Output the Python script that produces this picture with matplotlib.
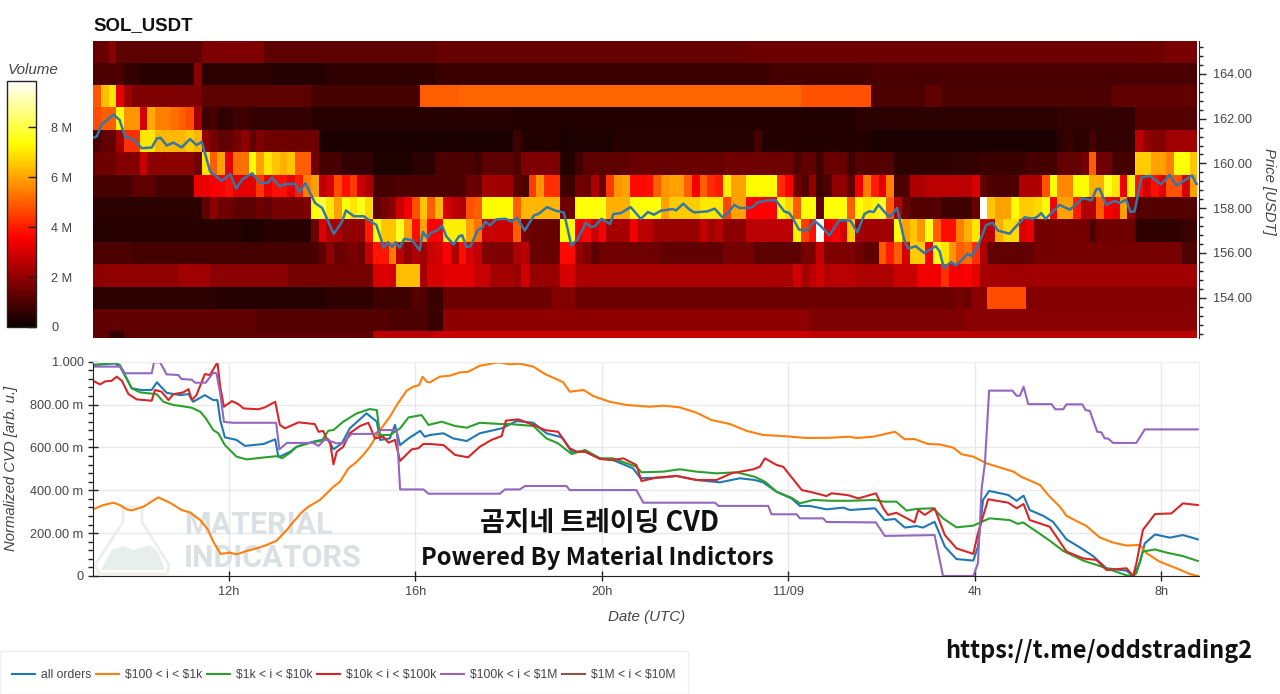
import numpy as np
import matplotlib
matplotlib.use("Agg")
import matplotlib.pyplot as plt
from matplotlib.patches import Polygon, Rectangle
from matplotlib.ticker import MultipleLocator

plt.rcParams['font.family'] = ['Liberation Sans', 'DejaVu Sans']

# heatmap: one list per price row, (first 10 min cell, volume in M), value holds until next entry
n_cells = 142
t_start = 9.08
vol_165 = [(0,1.4),(2,1.9),(3,1.2),(14,1.7),(22,1.2),(44,1.35),(84,1.45),(134,1.5),(138,1.65)]
vol_164 = [(0,1.0),(4,.65),(6,.45),(13,1.9),(14,.5),(23,.4),(30,.55),(44,.7),(87,.85),(100,.95),(141,.9)]
vol_163 = [(0,4.9),(1,6.4),(2,7.0),(3,3.2),(4,2.2),(5,1.7),(14,1.2),(28,.9),(42,5.0),(47,5.1),(91,4.8),(100,1.0),(107,1.3),(109,1.0),(131,1.3)]
vol_162 = [(0,4.7),(1,5.0),(3,7.3),(4,5.8),(6,3.0),(7,6.1),(8,5.5),(10,5.2),(11,5.0),(12,4.7),(13,2.3),(14,.7),(15,.9),(16,.6),(18,.8),(20,.6),(28,.45),(54,.35),(98,.5),(124,.6),(134,1.1)]
vol_161 = [(0,1.0),(1,1.3),(3,2.3),(4,4.3),(6,7.0),(8,6.3),(12,6.6),(13,6.3),(14,2.0),(15,1.6),(16,1.3),(18,1.6),(19,2.0),(20,1.3),(21,1.7),(22,1.5),(29,.25),
           (54,.8),(55,.35),(60,.2),(61,.3),(67,.4),(85,.9),(86,.35),(100,.25),(124,.5),(125,.7),(126,.5),(128,.9),(129,.6),(134,2.6),(135,2.0),(136,1.8),(138,2.2)]
vol_160 = [(0,1.5),(3,1.8),(6,2.8),(7,1.9),(13,1.5),(14,7.0),(15,5.0),(16,6.0),(17,3.2),(18,5.2),(20,7.3),(21,6.0),(22,7.0),(23,6.5),(24,6.2),(25,6.5),(26,5.0),(28,1.5),(29,.9),(32,.6),(36,.3),(41,.5),
           (44,1.0),(49,.8),(50,1.2),(54,1.0),(55,1.7),(60,.4),(62,.8),(63,1.2),(69,1.4),(81,1.5),(90,1.0),(91,1.3),(93,.8),(94,1.4),(97,.8),(98,1.1),(103,.55),(111,.6),(114,.7),(120,.9),
           (124,1.3),(127,1.6),(128,5.0),(129,1.5),(131,.9),(134,6.6),(136,6.0),(138,5.5),(139,7.4),(141,6.5)]
vol_159 = [(0,.9),(5,1.2),(8,.9),(13,3.3),(15,3.5),(17,3.8),(18,3.2),(21,4.4),(22,3.3),(23,3.8),(25,3.2),(26,4.0),(27,5.5),(28,6.0),(29,2.6),(30,3.0),(31,4.7),(32,3.8),(33,4.4),(34,2.8),(35,2.4),(36,.9),(39,1.0),
           (48,1.4),(50,2.2),(54,1.2),(55,1.0),(56,4.5),(57,5.8),(58,4.3),(60,.8),(62,1.6),(63,1.4),(64,2.4),(65,1.4),(66,4.4),(67,5.8),(68,6.0),(69,3.7),(71,3.8),(72,5.0),(73,5.8),(74,6.0),(76,5.0),(77,3.5),(78,5.0),(79,4.2),(80,4.0),
           (81,7.1),(82,6.0),(84,7.3),(88,4.2),(89,3.6),(90,1.5),(91,1.1),(92,2.0),(93,.8),(94,1.0),(95,2.0),(97,1.3),(98,3.4),(99,5.4),(100,4.0),(101,3.2),(102,5.5),(103,1.0),(105,2.4),(107,2.6),(113,3.0),(114,1.3),(115,1.0),
           (119,2.4),(122,4.8),(123,7.4),(124,5.6),(126,7.3),(128,6.2),(130,7.7),(131,7.0),(132,3.4),(133,7.2),(134,3.8),(135,3.0),(136,3.8),(137,3.2),(138,4.8),(140,3.0),(141,6.0)]
vol_158 = [(0,.5),(14,1.2),(15,1.9),(16,1.5),(18,1.2),(21,1.5),(22,1.3),(23,1.6),(27,1.8),(28,7.5),(29,8.0),(30,7.0),(31,6.0),(32,7.4),(33,7.0),(34,7.6),(35,6.8),(36,1.3),(37,1.6),(38,1.9),(39,2.8),(40,3.4),(41,4.8),(42,6.5),(43,5.0),
           (44,6.3),(45,3.0),(46,2.6),(47,2.4),(48,4.8),(49,5.0),(50,7.3),(54,5.0),(55,6.3),(60,1.5),(62,7.4),(65,7.5),(66,6.2),(69,7.4),(73,6.0),(74,6.6),(78,7.0),(81,4.6),(82,6.0),(84,3.6),(88,7.3),(89,6.8),(90,5.0),(91,7.4),(93,1.3),(94,7.4),(97,5.0),
           (98,7.3),(99,7.0),(100,7.2),(101,7.8),(102,5.0),(103,2.5),(104,1.4),(105,1.1),(109,.8),(113,1.4),(114,9.8),(115,6.5),(116,6.0),(118,7.3),(119,6.6),(121,6.8),(122,7.3),(123,3.4),(124,6.0),(126,4.0),(127,2.4),(128,2.5),(129,5.0),(130,3.5),(131,3.2),(132,6.0),(133,2.0),(134,1.1)]
vol_157 = [(0,.45),(19,.3),(22,.45),(28,1.5),(29,3.1),(30,2.4),(32,2.0),(35,4.0),(36,7.4),(37,6.5),(39,7.7),(40,6.0),(41,3.8),(42,6.0),(43,3.6),(45,7.1),(48,6.0),(49,5.3),(50,2.8),(54,5.0),(55,1.6),(56,1.4),(60,7.3),(62,3.4),(63,3.7),(64,2.8),(65,3.5),(66,2.3),
           (69,3.4),(70,2.6),(72,2.1),(78,2.7),(79,2.3),(80,2.5),(81,1.9),(84,2.6),(90,7.2),(91,4.5),(92,3.8),(93,9.8),(94,3.2),(95,3.6),(96,3.0),(97,6.6),(98,2.2),(103,7.5),(104,6.0),(105,6.5),(106,5.8),(107,7.6),(108,5.0),(109,3.8),(111,5.5),(112,6.2),(113,7.0),
           (114,2.6),(116,6.2),(117,6.8),(119,3.0),(120,3.3),(121,1.6),(128,1.0),(129,1.5),(134,.55),(140,.7)]
vol_156 = [(0,1.0),(5,.85),(28,1.0),(29,1.3),(30,1.9),(31,1.4),(32,1.5),(33,1.7),(34,1.5),(35,2.7),(36,3.9),(38,5.4),(39,2.6),(40,2.0),(41,2.4),(42,2.2),(43,2.8),(44,3.0),(45,3.6),(46,2.4),(47,3.8),(48,3.0),(49,2.7),(50,1.7),(54,2.4),(55,2.6),(56,1.4),(60,3.7),(62,2.0),(63,1.7),(64,1.2),(65,1.5),
           (73,1.3),(81,1.6),(85,1.2),(91,1.6),(93,2.7),(94,1.7),(98,1.5),(99,1.3),(101,4.9),(102,4.0),(103,5.0),(104,3.0),(105,6.6),(107,3.5),(108,7.5),(109,7.0),(110,5.8),(111,5.0),(112,5.2),(113,4.3),(114,2.4),(115,1.3),(121,1.6),(140,1.0)]
vol_155 = [(0,1.9),(1,2.0),(11,2.2),(15,1.9),(25,1.6),(36,3.1),(38,3.0),(39,6.4),(42,2.3),(43,3.0),(45,3.2),(49,2.8),(51,2.3),(54,2.1),(55,2.9),(56,2.1),(60,3.0),(62,2.35),(90,2.9),(91,2.3),(92,2.6),(93,2.9),(94,2.5),(95,2.6),(98,2.4),(103,2.8),(106,3.4),(109,4.3),(110,3.5),(112,3.6),(113,3.2),(114,2.3),(117,2.2)]
vol_154 = [(0,.5),(16,.4),(30,.55),(36,.8),(41,1.1),(43,.7),(45,1.45),(59,1.8),(62,1.45),(111,1.6),(112,1.45),(113,1.9),(115,4.7),(120,1.8)]
vol_153 = [(0,1.3),(21,1.1),(38,1.0),(43,.7),(45,1.95),(92,1.7),(112,1.85)]
vol_152 = [(0,1.2),(2,.6),(4,1.2),(36,2.6),(44,2.8),(92,2.6)]
vol_rows = [vol_152, vol_153, vol_154, vol_155, vol_156, vol_157, vol_158, vol_159, vol_160, vol_161, vol_162, vol_163, vol_164, vol_165]
price_edges = [152.2, 152.5, 153.5, 154.5, 155.5, 156.5, 157.5, 158.5, 159.5, 160.5, 161.5, 162.5, 163.5, 164.5, 165.47]

price_t = [9.08,9.16,9.27,9.37,9.52,9.65,9.77,9.91,10.0,10.12,10.34,10.45,10.53,10.66,10.8,10.98,11.16,11.3,11.41,11.59,11.84,12.02,12.15,12.27,12.49,12.66,12.84,12.91,13.08,13.2,13.41,13.5,13.63,13.84,13.99,14.24,14.42,14.5,14.67,14.88,15.08,15.15,15.31,15.4,15.49,15.57,15.65,15.75,15.92,16.08,16.15,16.24,
           16.31,16.45,16.56,16.65,16.81,16.92,16.99,17.08,17.17,17.33,17.42,17.49,17.58,17.72,17.92,18.05,18.17,18.33,18.53,18.63,18.81,18.99,19.17,19.33,19.46,19.64,19.76,19.83,19.98,20.16,20.23,20.39,20.6,20.82,20.97,21.1,21.25,21.5,21.57,21.73,21.85,21.96,22.25,22.4,22.57,22.68,22.82,22.93,23.11,23.21,23.32,23.53,23.71,23.89,24.0,24.07,24.21,24.39,24.54,24.68,24.86,25.07,25.31,25.46,
           25.61,25.71,25.81,25.91,26.09,26.16,26.31,26.46,26.55,26.71,26.89,27.14,27.22,27.31,27.47,27.57,27.72,27.82,27.91,28.07,28.22,28.36,28.47,28.72,28.86,29.04,29.22,29.31,29.4,29.49,29.79,30.01,30.29,30.48,30.58,30.65,30.79,30.97,31.08,31.22,31.31,31.4,31.54,31.72,31.97,32.15,32.29,32.47,32.63,32.72,32.77]
price_v = [161.15,161.2,161.76,161.91,162.19,161.94,161.17,161.12,160.97,160.68,160.71,161.12,161.14,160.8,160.93,160.72,161.09,160.82,160.97,159.64,159.22,159.53,158.87,159.27,159.56,159.12,159.15,159.37,158.97,159.07,159.09,158.7,159.12,158.23,158.01,156.85,157.41,157.9,157.64,157.64,157.34,157.26,156.23,156.48,156.27,156.48,156.23,156.63,156.57,156.12,156.94,156.67,
           156.89,157.0,157.22,156.74,156.37,156.74,156.79,156.27,156.3,157.04,157.12,157.41,157.23,157.5,157.53,157.4,157.56,157.0,157.68,157.75,158.05,157.89,157.81,156.34,156.6,157.34,157.16,157.19,157.53,157.29,157.74,157.78,158.05,157.52,157.83,157.71,157.89,157.96,157.9,158.2,157.96,157.81,157.86,157.98,157.59,157.78,158.15,158.01,158.01,158.05,158.26,158.35,158.36,157.86,157.78,157.56,157.04,157.0,157.44,157.19,156.79,157.46,157.44,156.92,
           157.74,157.86,157.83,158.15,157.71,157.61,158.01,156.6,156.2,156.3,156.0,156.3,156.08,155.34,155.59,155.44,155.74,155.97,155.85,156.45,157.26,157.34,157.0,156.86,157.19,157.59,157.53,157.61,157.78,157.52,158.15,157.93,158.45,158.35,158.85,158.87,158.15,158.33,158.23,158.38,157.83,157.86,159.37,159.45,159.07,159.49,159.01,159.24,159.47,159.09,159.07]

# normalised CVD series
all_t = [9.08,9.55,9.66,9.91,10.12,10.34,10.45,10.66,10.95,11.13,11.23,11.48,11.66,11.75,11.81,11.91,12.16,12.34,12.74,12.99,13.06,13.31,13.45,13.81,13.99,14.13,14.24,14.42,14.59,14.95,15.17,15.24,15.45,15.56,15.67,15.85,16.1,16.2,
         16.31,16.6,16.81,17.1,17.38,17.85,18.17,18.53,18.81,19.14,19.35,19.64,19.96,20.24,20.67,20.83,21.32,21.6,22.03,22.53,22.96,23.28,23.46,23.75,24.07,24.25,24.46,24.82,25.18,
         25.32,25.86,26.07,26.29,26.5,26.75,26.89,27.14,27.36,27.61,27.97,28.07,28.18,28.31,28.72,28.9,29.05,29.18,29.47,29.68,29.97,30.29,30.54,30.83,31.26,31.4,31.54,31.65,31.87,32.19,32.47,32.79]
all_v = [.984,.992,.977,.876,.868,.868,.904,.855,.844,.849,.813,.844,.821,.821,.728,.647,.635,.607,.616,.638,.554,.58,.603,.627,.635,.638,.591,.619,.689,.759,.72,.635,.642,.705,.611,.642,.677,.65,
         .658,.666,.642,.63,.666,.689,.723,.715,.666,.647,.58,.58,.549,.541,.502,.456,.46,.467,.448,.437,.456,.448,.437,.393,.362,.327,.327,.311,.319,
         .308,.316,.261,.266,.226,.233,.226,.253,.137,.079,.072,.137,.355,.397,.378,.351,.375,.308,.281,.253,.171,.129,.093,.036,.025,0,.059,.152,.194,.179,.191,.171]

k1_t = [9.08,9.3,9.52,9.66,9.8,9.91,10.16,10.48,10.73,10.98,11.16,11.38,11.55,11.66,11.82,12.02,12.16,12.38,12.59,12.81,13.02,13.24,13.38,13.56,13.7,13.95,14.13,14.24,14.38,14.56,14.74,14.88,15.02,15.24,15.45,15.6,15.81,15.95,16.08,16.15,16.25,
        16.31,16.52,16.74,16.95,17.13,17.38,17.78,18.03,18.24,18.53,18.78,18.99,19.17,19.31,19.49,19.61,19.81,20.17,20.53,21.03,21.32,21.67,22.03,22.35,22.75,23.11,23.46,23.89,24.39,24.89,
        25.32,25.46,25.82,26.29,26.5,26.71,27.0,27.25,27.54,27.72,27.97,28.25,28.83,29.0,29.4,29.61,29.83,29.97,30.18,30.4,30.68,30.97,31.26,31.54,31.69,31.97,32.33,32.62,32.79]
k1_v = [.311,.331,.342,.331,.311,.306,.323,.367,.342,.308,.297,.261,.215,.16,.103,.109,.101,.117,.129,.145,.165,.215,.253,.297,.323,.355,.393,.417,.44,.502,.533,.565,.603,.681,.743,.798,.865,.883,.891,.93,.905,
        .904,.93,.935,.95,.953,.981,.997,.988,.991,.977,.942,.922,.904,.86,.865,.868,.84,.813,.798,.79,.795,.787,.762,.728,.709,.677,.658,.653,.644,.645,
        .65,.644,.65,.673,.638,.639,.616,.614,.599,.568,.557,.526,.487,.463,.425,.37,.323,.281,.257,.233,.18,.156,.142,.145,.106,.067,.036,.009,0]

k10_t = [9.08,9.23,9.55,9.66,9.91,10.09,10.45,10.59,10.8,10.98,11.2,11.38,11.5,11.66,11.77,11.91,12.16,12.38,12.66,13.06,13.13,13.31,13.45,13.74,13.99,14.13,14.24,14.45,14.74,15.02,15.17,15.24,15.45,15.67,15.85,16.13,16.28,
         16.56,16.85,17.1,17.38,17.85,18.03,18.53,18.81,19.06,19.35,19.64,19.96,20.24,20.53,20.74,20.85,21.32,21.67,22.03,22.46,22.89,23.28,23.5,23.75,24.07,24.25,24.54,24.89,
         25.32,25.86,26.04,26.32,26.54,26.75,27.11,27.32,27.61,27.97,28.32,28.75,28.93,29.04,29.33,29.61,29.9,30.33,30.72,31.26,31.4,31.47,31.61,31.87,32.12,32.47,32.79]
k10_v = [.981,.989,.997,.984,.876,.857,.848,.813,.798,.793,.785,.767,.736,.681,.666,.611,.557,.544,.551,.56,.549,.575,.603,.622,.631,.678,.681,.72,.759,.779,.774,.658,.658,.689,.74,.751,.705,
         .72,.7,.692,.715,.709,.709,.7,.642,.619,.569,.588,.549,.549,.526,.51,.484,.487,.498,.487,.479,.484,.463,.44,.393,.365,.339,.355,.351,
         .351,.355,.347,.347,.305,.313,.316,.269,.227,.235,.269,.261,.243,.25,.207,.165,.117,.072,.044,.003,0,.012,.114,.124,.109,.093,.07]

k100_t = [9.08,9.23,9.34,9.48,9.59,9.7,9.84,10.02,10.34,10.41,10.55,10.7,10.8,11.02,11.13,11.2,11.3,11.48,11.59,11.75,11.81,11.89,12.06,12.2,12.31,12.63,12.77,12.99,13.09,13.2,13.49,13.84,13.92,14.02,14.09,14.17,14.24,14.31,14.45,14.59,14.81,14.99,15.13,15.31,15.42,15.56,15.67,15.92,16.06,16.17,
          16.31,16.6,16.85,17.13,17.38,17.63,17.85,17.94,18.21,18.53,18.78,19.06,19.31,19.46,19.64,19.96,20.24,20.46,20.74,20.85,21.17,21.6,22.03,22.46,22.78,23.25,23.39,23.5,23.75,23.89,24.29,24.54,24.82,24.93,25.25,
          25.32,25.5,25.68,25.88,26.04,26.14,26.32,26.71,26.79,26.93,27.14,27.36,27.61,27.97,28.07,28.29,28.72,28.9,29.05,29.18,29.61,29.97,30.33,30.61,30.83,31.26,31.4,31.47,31.61,31.87,32.22,32.47,32.79]
k100_v = [.911,.894,.908,.911,.93,.911,.849,.824,.818,.868,.86,.821,.848,.857,.872,.821,.844,.942,.938,.997,.883,.79,.816,.802,.782,.778,.787,.813,.705,.689,.717,.709,.673,.677,.642,.619,.521,.58,.603,.666,.7,.715,.642,.65,.622,.635,.537,.591,.596,.616,
          .616,.611,.565,.554,.603,.635,.653,.725,.731,.705,.681,.673,.596,.58,.58,.546,.541,.549,.518,.443,.459,.467,.448,.448,.479,.498,.51,.549,.518,.51,.401,.389,.373,.386,.378,
          .375,.362,.373,.386,.316,.285,.295,.25,.308,.285,.316,.191,.129,.103,.199,.358,.342,.316,.336,.261,.23,.114,.082,.075,.028,.036,0,.059,.215,.289,.292,.339,.331]

m1_t = [9.08,9.66,9.77,10.34,10.39,10.52,10.66,10.91,10.98,11.2,11.27,11.5,11.66,11.73,11.81,11.89,12.09,13.01,13.08,13.24,13.81,13.92,14.06,14.31,14.45,14.63,15.13,15.24,15.6,15.67,16.17,16.28,
        17.81,17.92,18.24,18.35,19.24,19.31,20.74,20.89,22.43,22.5,23.57,23.64,24.18,24.25,24.75,24.82,
        25.88,26.07,27.14,27.32,27.97,28.07,28.15,28.22,28.31,28.81,28.9,28.97,29.05,29.15,29.65,29.73,29.9,29.97,30.31,30.38,30.47,30.63,30.72,30.79,30.86,30.97,31.47,31.65,32.79]
m1_v = [.977,.977,.946,.946,.997,.997,.941,.938,.919,.916,.902,.902,.949,.946,.852,.719,.715,.715,.591,.621,.621,.607,.638,.619,.622,.663,.663,.681,.681,.404,.404,.384,
        .384,.404,.404,.42,.42,.401,.401,.342,.342,.327,.327,.288,.288,.269,.269,.252,
        .25,.187,.191,0,0,.059,.409,.526,.865,.865,.841,.841,.883,.802,.802,.778,.778,.801,.801,.774,.771,.673,.67,.642,.642,.621,.621,.684,.684]

m10_t = []
m10_v = []

series_names = ['all orders', r'\$100 < i < \$1k', r'\$1k < i < \$10k', r'\$10k < i < \$100k', r'\$100k < i < \$1M', r'\$1M < i < \$10M']
series_colors = ['#1f77b4', '#ff7f0e', '#2ca02c', '#d62728', '#9467bd', '#8c564b']

hour_ticks = [12, 16, 20, 24, 28, 32]
hour_labels = ['12h', '16h', '20h', '11/09', '4h', '8h']
cvd_ticks = [0, 0.2, 0.4, 0.6, 0.8, 1.0]
cvd_labels = ['0', '200.00 m', '400.00 m', '600.00 m', '800.00 m', '1.000']
vol_ticks = [0, 2, 4, 6, 8]
vol_labels = ['0', '2 M', '4 M', '6 M', '8 M']

W, H = 1280, 694
GRAY = '#444444'
fig = plt.figure(figsize=(W / 100, H / 100), dpi=100)


def px_axes(x0, y0, x1, y1):
    # pixel box, y measured from the top of the picture
    return fig.add_axes([x0 / W, 1 - y1 / H, (x1 - x0) / W, (y1 - y0) / H])


def fx(x, y):
    return x / W, 1 - y / H


def expand(row):
    cells = np.zeros(n_cells)
    for i, (start, val) in enumerate(row):
        stop = row[i + 1][0] if i + 1 < len(row) else n_cells
        cells[start:stop] = val
    return cells


# price heatmap
ax_top = px_axes(93, 41, 1197.5, 338)
time_edges = t_start + np.arange(n_cells + 1) / 6
volume = np.array([expand(r) for r in vol_rows])
mesh = ax_top.pcolormesh(time_edges, price_edges, volume, cmap='hot', vmin=0, vmax=9.86, rasterized=True)
ax_top.plot(price_t, price_v, color='#3577a5', lw=1.8, solid_joinstyle='round')
ax_top.set_xlim(t_start, time_edges[-1])
ax_top.set_ylim(price_edges[0], price_edges[-1])
ax_top.set_xticks([])
ax_top.yaxis.tick_right()
ax_top.yaxis.set_major_locator(MultipleLocator(2))
ax_top.yaxis.set_major_formatter(lambda v, pos: f'{v:.2f}')
ax_top.yaxis.set_minor_locator(MultipleLocator(0.4))
ax_top.tick_params(axis='y', which='major', direction='out', length=5.2, width=1, color='#222222', labelsize=9.2, labelcolor=GRAY, pad=4.5)
ax_top.tick_params(axis='y', which='minor', direction='out', length=3.2, width=1, color='#222222')
for side in ['top', 'bottom', 'left']:
    ax_top.spines[side].set_visible(False)
ax_top.spines['right'].set_color('#222222')
ax_top.spines['right'].set_position(('outward', 1.2))
fig.text(*fx(1269, 191), 'Price [USDT]', rotation=270, style='italic', color=GRAY, fontsize=10.7, ha='center', va='center')
fig.text(*fx(93, 25.5), 'SOL_USDT', fontweight='bold', fontsize=13.4, color='#111111', ha='left', va='center')

# colour bar
cax = px_axes(7, 81, 36, 327)
cbar = fig.colorbar(mesh, cax=cax)
cbar.set_ticks(vol_ticks, labels=vol_labels)
cbar.ax.tick_params(direction='in', length=6, width=1, color='#222222', labelsize=9.2, labelcolor=GRAY, pad=11)
cbar.ax.minorticks_off()
cbar.outline.set_edgecolor('#222222')
cbar.outline.set_linewidth(1)
fig.text(*fx(8, 70), 'Volume', style='italic', color=GRAY, fontsize=10.9, ha='left', va='center')

# CVD lines
ax_cvd = px_axes(93, 361.7, 1199, 576)
ax_cvd.set_xlim(t_start, t_start + (1199 - 93) / 46.6)
ax_cvd.set_ylim(0, 1)
ax_cvd.grid(True, which='major', color='#e8e8e8', lw=1)
ax_cvd.set_axisbelow(True)

# watermark sits under the lines
flask_edge = [fx(123, 507), fx(142, 507), fx(142, 522), fx(169, 565), fx(167, 574), fx(99, 574), fx(95, 565), fx(123, 522)]
liquid = [fx(101, 570), fx(112, 550), fx(123, 546), fx(133, 550), fx(150, 545), fx(158, 552), fx(165, 570)]
ax_cvd.add_patch(Polygon(flask_edge, closed=True, fill=False, ec='#eceeea', lw=2, transform=fig.transFigure, zorder=0.6))
ax_cvd.add_patch(Polygon(liquid, closed=True, fc='#e6efec', ec='none', transform=fig.transFigure, zorder=0.7))
wm_font = ['Roboto', 'DejaVu Sans']
ax_cvd.text(*fx(184, 525), 'MATERIAL', family=wm_font, fontweight='bold', fontsize=22, color='#dbe0e3', ha='left', va='center', transform=fig.transFigure, zorder=0.8)
ax_cvd.text(*fx(184, 558), 'INDICATORS', family=wm_font, fontweight='bold', fontsize=22, color='#dbe0e3', ha='left', va='center', transform=fig.transFigure, zorder=0.8)

ax_cvd.plot(m10_t, m10_v, color=series_colors[5], lw=1.5, label=series_names[5], zorder=2)
ax_cvd.plot(all_t, all_v, color=series_colors[0], lw=1.5, label=series_names[0], zorder=2.1)
ax_cvd.plot(k1_t, k1_v, color=series_colors[1], lw=1.5, label=series_names[1], zorder=2.2)
ax_cvd.plot(k10_t, k10_v, color=series_colors[2], lw=1.5, label=series_names[2], zorder=2.3)
ax_cvd.plot(k100_t, k100_v, color=series_colors[3], lw=1.5, label=series_names[3], zorder=2.4)
ax_cvd.plot(m1_t, m1_v, color=series_colors[4], lw=1.5, label=series_names[4], zorder=2.5)

ax_cvd.set_xticks(hour_ticks, labels=hour_labels)
ax_cvd.set_yticks(cvd_ticks, labels=cvd_labels)
ax_cvd.yaxis.set_minor_locator(MultipleLocator(0.04))
ax_cvd.tick_params(axis='both', which='major', direction='inout', length=6.5, width=1, color='#222222', labelsize=9.2, labelcolor=GRAY)
ax_cvd.tick_params(axis='y', which='major', pad=3.5)
ax_cvd.tick_params(axis='x', which='major', pad=4)
ax_cvd.tick_params(axis='y', which='minor', length=3.5, width=1, color='#222222')
ax_cvd.spines['left'].set_color('#222222')
ax_cvd.spines['bottom'].set_color('#222222')
ax_cvd.spines['top'].set_color('#eeeeee')
ax_cvd.spines['right'].set_color('#eeeeee')
fig.text(*fx(11, 468), 'Normalized CVD [arb. u.]', rotation=90, style='italic', color=GRAY, fontsize=10.7, ha='center', va='center')
fig.text(*fx(647, 617), 'Date (UTC)', style='italic', color=GRAY, fontsize=10.9, ha='center', va='center')

# legend in the original order, box drawn apart to keep its width
handles, labels = ax_cvd.get_legend_handles_labels()
order = [1, 2, 3, 4, 5, 0]
fig.add_artist(Rectangle(fx(0, 694), 688 / W, 43 / H, fc='white', ec='#efefef', lw=1, transform=fig.transFigure))
leg = fig.legend([handles[i] for i in order], [labels[i] for i in order], ncol=6, loc='lower left', bbox_to_anchor=(-3 / W, -2 / H), borderaxespad=0,
                 fontsize=8.7, labelcolor=GRAY, frameon=False, handlelength=1.9, handletextpad=0.5,
                 columnspacing=0.38, borderpad=1.25)

# overlay captions
cap_font = ['Noto Sans CJK KR', 'DejaVu Sans']
fig.text(*fx(599, 523), '곰지네 트레이딩 CVD', family=cap_font, fontweight='bold', fontsize=19.4, color='#111111', ha='center', va='center')
fig.text(*fx(597, 558), 'Powered By Material Indictors', family=cap_font, fontweight='bold', fontsize=17.1, color='#111111', ha='center', va='center')
fig.text(*fx(1099, 651), 'https://t.me/oddstrading2', family=cap_font, fontweight='bold', fontsize=16.95, color='#111111', ha='center', va='center')

fig.savefig('out.png', dpi=100)
